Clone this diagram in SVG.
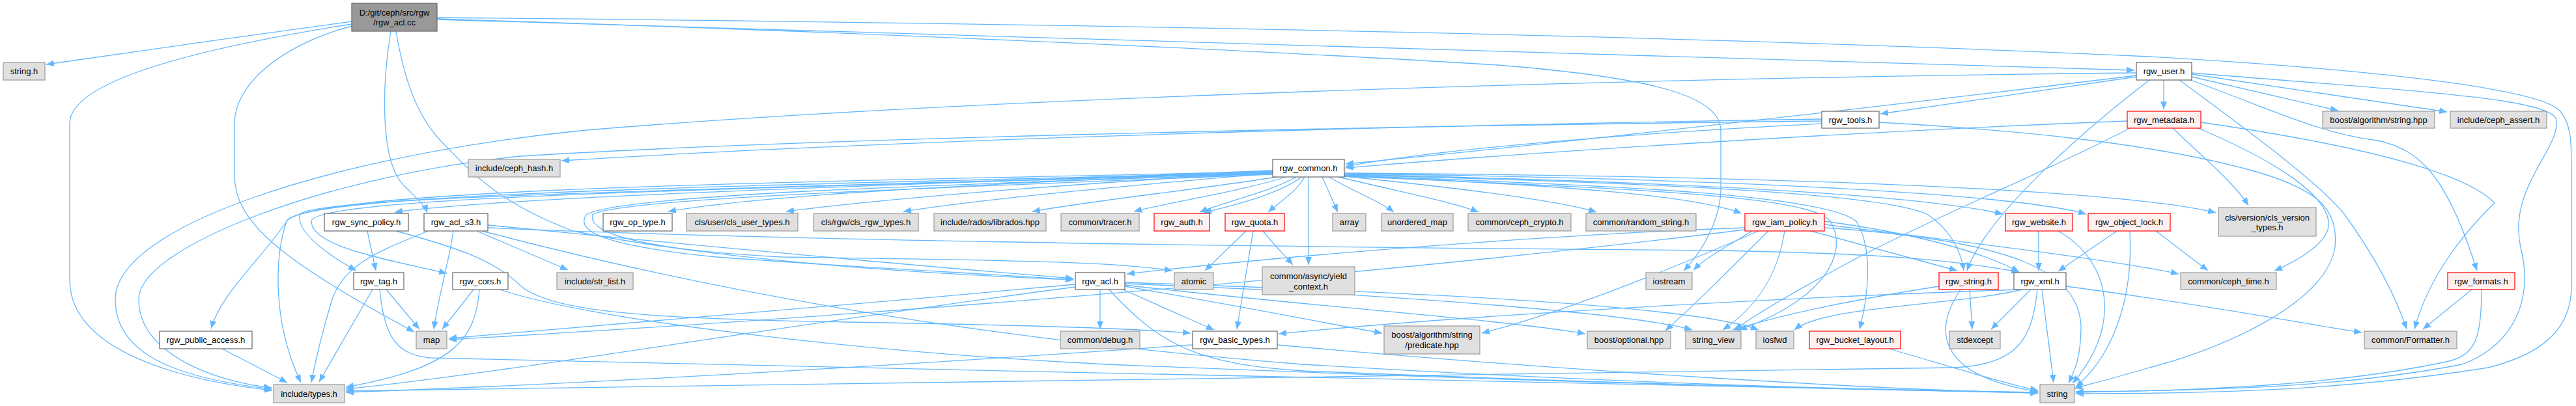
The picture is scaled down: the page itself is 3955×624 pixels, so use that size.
<svg xmlns="http://www.w3.org/2000/svg" width="3955" height="624" viewBox="0 0 3955 624">
<style>
.e{fill:none;stroke:#63B8FF;stroke-width:1.3;marker-end:url(#ah)}
.w{fill:#FFFFFF;stroke:#666666;stroke-width:1.2}
.g{fill:#E0E0E0;stroke:#999999;stroke-width:1.2}
.r{fill:#FFF0F0;stroke:#FF0000;stroke-width:1.2}
.k{fill:#999999;stroke:#666666;stroke-width:1.2}
text{font-family:"Liberation Sans",Arial,sans-serif;font-size:13px;fill:#000000;text-anchor:middle}
</style>
<defs>
<marker id="ah" markerUnits="userSpaceOnUse" markerWidth="13" markerHeight="10" refX="12" refY="5" orient="auto">
<path d="M0,0 L12,5 L0,10 z" fill="#63B8FF"/>
</marker>
</defs>
<g id="edges">
<path class="e" d="M540,33 C400,52 200,80 71,99"/>
<path class="e" d="M540,37 C330,70 107,120 107,190 L107,430 C107,540 280,585 418,600"/>
<path class="e" d="M540,40 C430,70 360,130 360,190 L360,270 C360,340 430,400 636,510"/>
<path class="e" d="M600,48 C585,140 585,250 620,285 C640,305 652,315 656,327"/>
<path class="e" d="M608,48 C620,120 640,180 680,220 C720,260 760,310 880,355 C1100,400 1400,420 1648,430"/>
<path class="e" d="M671,30 L3277,108"/>
<path class="e" d="M671,27 C1500,35 2500,50 3300,87 C3700,110 3900,140 3930,170 C3948,190 3948,220 3948,260 L3948,440 C3948,520 3880,550 3820,565 C3600,600 3400,605 3187,605"/>
<path class="e" d="M671,29 C1200,45 1900,75 2300,100 C2550,120 2640,150 2642,200 L2642,290 C2642,330 2620,380 2585,416"/>
<path class="e" d="M3280,118 L2887,175"/>
<path class="e" d="M3280,116 C3000,150 2500,210 2066,252"/>
<path class="e" d="M3322,123 L3322,168"/>
<path class="e" d="M3365,118 L3590,170"/>
<path class="e" d="M3365,114 L3757,172"/>
<path class="e" d="M3280,112 C2500,120 1500,150 900,200 C500,240 177,350 177,460 C177,540 260,580 417,598"/>
<path class="e" d="M3300,123 C3200,200 3050,330 3020,416"/>
<path class="e" d="M3346,123 C3450,200 3560,280 3600,330 C3650,400 3680,460 3695,506"/>
<path class="e" d="M3363,123 C3480,165 3560,205 3650,216 C3720,230 3760,280 3803,416"/>
<path class="e" d="M3365,112 C3700,140 3920,150 3925,185 C3930,230 3850,290 3870,380 C3890,460 3860,530 3780,560 C3600,595 3400,600 3187,602"/>
<path class="e" d="M3266,186 C2900,200 2400,230 2066,258"/>
<path class="e" d="M3379,188 C3600,220 3780,260 3830,312 C3790,350 3730,420 3707,506"/>
<path class="e" d="M3375,197 C3500,250 3570,300 3575,340 C3580,370 3530,400 3492,416"/>
<path class="e" d="M3336,197 C3380,240 3430,280 3452,316"/>
<path class="e" d="M3270,197 C3150,260 3000,320 2860,392 C2760,445 2700,480 2663,507"/>
<path class="e" d="M2797,190 C2500,205 2200,230 2066,256"/>
<path class="e" d="M2797,183 C2000,195 1300,220 862,247"/>
<path class="e" d="M2797,186 C2000,195 1200,215 800,240 C500,270 213,380 213,460 C213,540 320,585 417,596"/>
<path class="e" d="M2885,188 C3100,200 3300,220 3450,260 C3560,290 3590,320 3585,380 C3570,470 3400,540 3300,565 C3250,580 3210,590 3185,597"/>
<path class="e" d="M1954,262 C1400,285 800,300 606,326"/>
<path class="e" d="M1954,263 C1600,280 1200,295 1026,325"/>
<path class="e" d="M1954,264 C1700,280 1400,300 1207,325"/>
<path class="e" d="M1954,266 C1800,280 1550,300 1387,325"/>
<path class="e" d="M1960,272 C1850,290 1700,305 1585,325"/>
<path class="e" d="M1975,272 C1900,295 1800,310 1741,325"/>
<path class="e" d="M1990,272 C1950,295 1880,310 1842,326"/>
<path class="e" d="M1998,272 C1965,298 1895,315 1848,327"/>
<path class="e" d="M2003,272 C1990,295 1965,310 1947,326"/>
<path class="e" d="M2030,272 L2054,326"/>
<path class="e" d="M2040,272 C2080,295 2120,310 2140,326"/>
<path class="e" d="M2055,272 C2150,295 2230,310 2270,326"/>
<path class="e" d="M2064,271 C2250,290 2400,310 2451,326"/>
<path class="e" d="M2064,270 C2400,285 2600,300 2674,328"/>
<path class="e" d="M2064,268 C2600,280 2950,300 3075,329"/>
<path class="e" d="M2064,267 C2700,275 3100,300 3203,329"/>
<path class="e" d="M2064,266 C2700,270 3250,290 3402,327"/>
<path class="e" d="M2009,272 L2009,407"/>
<path class="e" d="M2064,269 C2600,282 2900,300 2960,330 C2990,350 3010,380 3015,416"/>
<path class="e" d="M2064,270 C2500,285 2800,300 2850,340 C2875,380 2870,450 2855,506"/>
<path class="e" d="M2064,271 C2500,290 2780,300 2810,340 C2840,390 2800,460 2670,507"/>
<path class="e" d="M1954,265 C1200,290 470,300 460,330 C455,360 510,395 547,416"/>
<path class="e" d="M1954,266 C1200,290 480,300 478,340 C478,380 600,400 686,420"/>
<path class="e" d="M1954,264 C1200,280 480,290 440,340 C400,400 340,450 324,505"/>
<path class="e" d="M1954,265 C1200,285 460,295 440,340 C420,400 420,500 462,588"/>
<path class="e" d="M1954,267 C1400,285 950,300 900,330 C880,360 950,380 1100,395 C1300,410 1500,420 1648,430"/>
<path class="e" d="M1954,268 C1400,290 950,305 910,330 C900,360 1000,385 1200,395 C1500,400 1700,400 1800,416"/>
<path class="e" d="M2679,350 C2400,360 2000,390 1730,421"/>
<path class="e" d="M2700,355 C2550,420 2400,480 2275,512"/>
<path class="e" d="M2715,355 C2650,420 2600,470 2557,508"/>
<path class="e" d="M2740,355 C2730,420 2700,470 2645,507"/>
<path class="e" d="M2780,355 L3005,416"/>
<path class="e" d="M2801,350 C3100,370 3190,420 3195,500 C3195,550 3185,570 3176,589"/>
<path class="e" d="M2690,355 C2650,380 2620,395 2600,415"/>
<path class="e" d="M2679,353 C2300,400 1600,470 689,522"/>
<path class="e" d="M2801,345 C3000,370 3250,400 3345,421"/>
<path class="e" d="M2801,340 C2950,360 3050,390 3100,418"/>
<path class="e" d="M3130,355 L3130,416"/>
<path class="e" d="M3160,355 C3240,400 3260,500 3182,589"/>
<path class="e" d="M3250,355 L3160,417"/>
<path class="e" d="M3270,355 C3275,450 3250,540 3187,595"/>
<path class="e" d="M3310,355 L3390,416"/>
<path class="e" d="M3024,445 L3028,506"/>
<path class="e" d="M3010,445 C2960,520 2990,580 3129,602"/>
<path class="e" d="M2977,440 C2850,460 2750,480 2660,507"/>
<path class="e" d="M3118,445 L3057,506"/>
<path class="e" d="M3135,445 L3153,588"/>
<path class="e" d="M3105,445 C3000,470 2800,470 2755,507"/>
<path class="e" d="M3172,440 C3400,470 3550,500 3626,511"/>
<path class="e" d="M3100,445 C2800,455 2300,480 1963,513"/>
<path class="e" d="M3128,445 C3120,520 3100,560 3000,565 C2000,575 1000,590 531,601"/>
<path class="e" d="M2900,536 C3000,565 3080,590 3129,600"/>
<path class="e" d="M3795,445 L3720,506"/>
<path class="e" d="M3810,445 C3810,520 3800,545 3760,555 C3600,590 3400,600 3187,603"/>
<path class="e" d="M1689,445 L1689,506"/>
<path class="e" d="M1724,445 L1864,507"/>
<path class="e" d="M1703,445 C1780,530 1840,560 2000,570 C2500,590 2900,600 3129,603"/>
<path class="e" d="M1727,440 C1900,470 2000,490 2122,512"/>
<path class="e" d="M1727,438 C2000,470 2300,490 2434,513"/>
<path class="e" d="M1727,436 C2100,450 2500,480 2598,507"/>
<path class="e" d="M1727,434 C2200,450 2600,470 2700,507"/>
<path class="e" d="M1651,437 C1300,470 900,500 689,520"/>
<path class="e" d="M1651,441 C1200,500 800,570 531,598"/>
<path class="e" d="M1831,530 C1400,560 900,590 531,603"/>
<path class="e" d="M1961,530 C2400,570 2900,600 3129,604"/>
<path class="e" d="M1913,355 L1850,416"/>
<path class="e" d="M1924,355 L1899,506"/>
<path class="e" d="M1939,355 C1955,375 1970,390 1985,407"/>
<path class="e" d="M564,355 L577,416"/>
<path class="e" d="M608,355 C700,380 760,400 800,440 C850,480 1000,490 1300,495 C1600,500 1750,505 1828,512"/>
<path class="e" d="M572,445 L490,587"/>
<path class="e" d="M593,445 L644,506"/>
<path class="e" d="M583,445 C590,520 610,545 660,550 C1500,570 2500,590 3129,604"/>
<path class="e" d="M727,445 L679,506"/>
<path class="e" d="M736,445 C730,520 700,565 531,595"/>
<path class="e" d="M767,445 C900,490 1300,540 1700,560 C2300,585 2800,598 3129,603"/>
<path class="e" d="M341,536 L441,588"/>
<path class="e" d="M696,355 C690,400 672,460 666,506"/>
<path class="e" d="M732,355 L872,415"/>
<path class="e" d="M657,355 C600,380 530,400 510,460 C495,510 485,550 478,588"/>
<path class="e" d="M749,346 C1000,370 1300,400 1648,428"/>
<path class="e" d="M749,350 C1200,370 2000,380 2640,385 C2900,390 3000,400 3100,418"/>
<path class="e" d="M740,355 C1100,450 1500,520 2000,560 C2500,590 2900,600 3129,603"/>
</g>
<g id="n_root"><rect class="k" x="540" y="5" width="131" height="43"/><text x="605.5" y="23.5">D:/git/ceph/src/rgw</text><text x="605.5" y="38.5">/rgw_acl.cc</text></g>
<g id="n_string_h"><rect class="g" x="5" y="96" width="64" height="27"/><text x="37" y="114">string.h</text></g>
<g id="n_rgw_user"><rect class="w" x="3280" y="96" width="85" height="27"/><text x="3322.5" y="114">rgw_user.h</text></g>
<g id="n_rgw_tools"><rect class="w" x="2797" y="171" width="88" height="26"/><text x="2841" y="188.5">rgw_tools.h</text></g>
<g id="n_rgw_metadata"><rect class="r" x="3266" y="171" width="113" height="26"/><text x="3322.5" y="188.5">rgw_metadata.h</text></g>
<g id="n_boost_string"><rect class="g" x="3566" y="171" width="172" height="26"/><text x="3652" y="188.5">boost/algorithm/string.hpp</text></g>
<g id="n_ceph_assert"><rect class="g" x="3762" y="171" width="148" height="26"/><text x="3836" y="188.5">include/ceph_assert.h</text></g>
<g id="n_ceph_hash"><rect class="g" x="719" y="245" width="141" height="27"/><text x="789.5" y="263">include/ceph_hash.h</text></g>
<g id="n_rgw_common"><rect class="w" x="1954" y="245" width="110" height="27"/><text x="2009" y="263">rgw_common.h</text></g>
<g id="n_rgw_sync_policy"><rect class="w" x="498" y="328" width="129" height="27"/><text x="562.5" y="346">rgw_sync_policy.h</text></g>
<g id="n_rgw_acl_s3"><rect class="w" x="651" y="328" width="98" height="27"/><text x="700" y="346">rgw_acl_s3.h</text></g>
<g id="n_rgw_op_type"><rect class="w" x="926" y="328" width="106" height="27"/><text x="979" y="346">rgw_op_type.h</text></g>
<g id="n_cls_user_types"><rect class="g" x="1054" y="328" width="171" height="27"/><text x="1139.5" y="346">cls/user/cls_user_types.h</text></g>
<g id="n_cls_rgw_types"><rect class="g" x="1249" y="328" width="161" height="27"/><text x="1329.5" y="346">cls/rgw/cls_rgw_types.h</text></g>
<g id="n_librados"><rect class="g" x="1434" y="328" width="172" height="27"/><text x="1520" y="346">include/rados/librados.hpp</text></g>
<g id="n_tracer"><rect class="g" x="1629" y="328" width="120" height="27"/><text x="1689" y="346">common/tracer.h</text></g>
<g id="n_rgw_auth"><rect class="r" x="1772" y="328" width="85" height="27"/><text x="1814.5" y="346">rgw_auth.h</text></g>
<g id="n_rgw_quota"><rect class="r" x="1881" y="328" width="91" height="27"/><text x="1926.5" y="346">rgw_quota.h</text></g>
<g id="n_array"><rect class="g" x="2046" y="328" width="51" height="27"/><text x="2071.5" y="346">array</text></g>
<g id="n_unordered_map"><rect class="g" x="2121" y="328" width="110" height="27"/><text x="2176" y="346">unordered_map</text></g>
<g id="n_ceph_crypto"><rect class="g" x="2254" y="328" width="158" height="27"/><text x="2333" y="346">common/ceph_crypto.h</text></g>
<g id="n_random_string"><rect class="g" x="2435" y="328" width="169" height="27"/><text x="2519.5" y="346">common/random_string.h</text></g>
<g id="n_rgw_iam_policy"><rect class="r" x="2679" y="328" width="122" height="27"/><text x="2740" y="346">rgw_iam_policy.h</text></g>
<g id="n_rgw_website"><rect class="r" x="3079" y="328" width="103" height="27"/><text x="3130.5" y="346">rgw_website.h</text></g>
<g id="n_rgw_object_lock"><rect class="r" x="3206" y="328" width="126" height="27"/><text x="3269" y="346">rgw_object_lock.h</text></g>
<g id="n_cls_version_types"><rect class="g" x="3406" y="319" width="150" height="44"/><text x="3481" y="339">cls/version/cls_version</text><text x="3481" y="354">_types.h</text></g>
<g id="n_rgw_tag"><rect class="w" x="543" y="419" width="77" height="26"/><text x="581.5" y="436.5">rgw_tag.h</text></g>
<g id="n_rgw_cors"><rect class="w" x="695" y="419" width="85" height="26"/><text x="737.5" y="436.5">rgw_cors.h</text></g>
<g id="n_str_list"><rect class="g" x="855" y="419" width="117" height="26"/><text x="913.5" y="436.5">include/str_list.h</text></g>
<g id="n_rgw_acl"><rect class="w" x="1651" y="419" width="76" height="26"/><text x="1689" y="436.5">rgw_acl.h</text></g>
<g id="n_atomic"><rect class="g" x="1803" y="419" width="60" height="26"/><text x="1833" y="436.5">atomic</text></g>
<g id="n_yield_context"><rect class="g" x="1938" y="410" width="142" height="43"/><text x="2009" y="429">common/async/yield</text><text x="2009" y="444.5">_context.h</text></g>
<g id="n_iostream"><rect class="g" x="2527" y="419" width="71" height="26"/><text x="2562.5" y="436.5">iostream</text></g>
<g id="n_rgw_string"><rect class="r" x="2977" y="419" width="91" height="26"/><text x="3022.5" y="436.5">rgw_string.h</text></g>
<g id="n_rgw_xml"><rect class="w" x="3092" y="419" width="80" height="26"/><text x="3132" y="436.5">rgw_xml.h</text></g>
<g id="n_ceph_time"><rect class="g" x="3348" y="419" width="147" height="26"/><text x="3421.5" y="436.5">common/ceph_time.h</text></g>
<g id="n_rgw_formats"><rect class="r" x="3758" y="419" width="103" height="26"/><text x="3809.5" y="436.5">rgw_formats.h</text></g>
<g id="n_rgw_public_access"><rect class="w" x="245" y="509" width="142" height="27"/><text x="316" y="527">rgw_public_access.h</text></g>
<g id="n_map"><rect class="g" x="639" y="509" width="47" height="27"/><text x="662.5" y="527">map</text></g>
<g id="n_debug"><rect class="g" x="1628" y="509" width="122" height="27"/><text x="1689" y="527">common/debug.h</text></g>
<g id="n_rgw_basic_types"><rect class="w" x="1831" y="509" width="130" height="27"/><text x="1896" y="527">rgw_basic_types.h</text></g>
<g id="n_predicate"><rect class="g" x="2125" y="501" width="147" height="43"/><text x="2198.5" y="518.5">boost/algorithm/string</text><text x="2198.5" y="534.5">/predicate.hpp</text></g>
<g id="n_optional"><rect class="g" x="2437" y="509" width="128" height="27"/><text x="2501" y="527">boost/optional.hpp</text></g>
<g id="n_string_view"><rect class="g" x="2588" y="509" width="85" height="27"/><text x="2630.5" y="527">string_view</text></g>
<g id="n_iosfwd"><rect class="g" x="2696" y="509" width="58" height="27"/><text x="2725" y="527">iosfwd</text></g>
<g id="n_rgw_bucket_layout"><rect class="r" x="2778" y="509" width="140" height="27"/><text x="2848" y="527">rgw_bucket_layout.h</text></g>
<g id="n_stdexcept"><rect class="g" x="2993" y="509" width="78" height="27"/><text x="3032" y="527">stdexcept</text></g>
<g id="n_formatter"><rect class="g" x="3630" y="509" width="142" height="27"/><text x="3701" y="527">common/Formatter.h</text></g>
<g id="n_types"><rect class="g" x="420" y="591" width="109" height="28"/><text x="474.5" y="609.5">include/types.h</text></g>
<g id="n_string"><rect class="g" x="3132" y="591" width="53" height="28"/><text x="3158.5" y="609.5">string</text></g>
</svg>
